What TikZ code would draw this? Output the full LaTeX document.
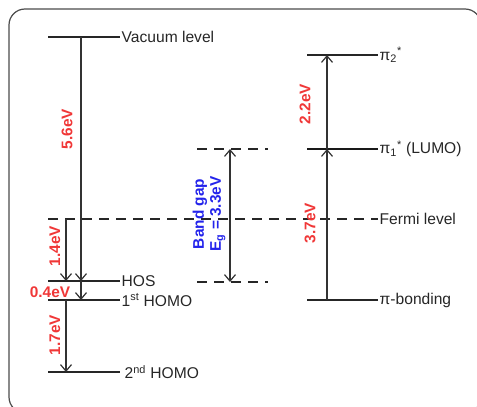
\documentclass[tikz,border=0pt]{standalone}
\usepackage{fontspec}
\setmainfont{Liberation Sans}
\usetikzlibrary{arrows.meta,positioning}
\definecolor{evred}{RGB}{240,55,55}
\definecolor{gapblue}{RGB}{35,35,235}
\tikzset{
  level/.style      = {line width=1.7pt, draw=black!85},
  thicklevel/.style = {line width=2.6pt, draw=black!90},
  dashlevel/.style  = {line width=1.7pt, draw=black!85, dash pattern=on 10pt off 7pt},
  evarrow/.style    = {line width=1.2pt, draw=black!80, -{Straight Barb[length=6.5pt,width=11pt]}},
  levellabel/.style = {anchor=west, inner sep=1.5pt, text=black!85,
                       font=\fontsize{15.6}{17}\selectfont},
  evlabel/.style    = {text=evred, rotate=90, inner sep=0pt,
                       font=\bfseries\fontsize{15.4}{17}\selectfont},
}

\begin{document}
\begin{tikzpicture}[x=1pt,y=-1pt]
  \useasboundingbox (0,0) rectangle (477,407);

  % ---- frame -------------------------------------------------------------
  \draw[line width=1.2pt, draw=black!70, rounded corners=16pt] (9,9) rectangle (481,413);

  % ---- arrow columns -----------------------------------------------------
  \coordinate (colA) at (81,0);
  \coordinate (colB) at (66,0);
  \coordinate (colC) at (230,0);
  \coordinate (colD) at (327,0);

  % ---- molecular levels, left stack --------------------------------------
  \coordinate (vacL) at (48,37);   \coordinate (vacR) at (120,37);
  \coordinate (hosL) at (48,281);  \coordinate (hosR) at (120,281);
  \coordinate (homoaL) at (48,300); \coordinate (homoaR) at (120,300);
  \coordinate (homobL) at (48,372); \coordinate (homobR) at (120,372);
  \draw[level] (vacL) -- (vacR);
  \draw[level] (hosL) -- (hosR);
  \draw[level] (homoaL) -- (homoaR);
  \draw[level] (homobL) -- (homobR);
  \node[levellabel] (vaclbl) at (vacR) {Vacuum level};
  \node[levellabel] (hoslbl) at (hosR) {HOS};
  \node[levellabel] (homoalbl) at (homoaR) {1\textsuperscript{st} HOMO};
  \node[levellabel] (homoblbl) at ([xshift=3pt]homobR) {2\textsuperscript{nd} HOMO};

  % ---- Fermi level and band gap ------------------------------------------
  \coordinate (fermiL) at (48,219); \coordinate (fermiR) at (378,219);
  \coordinate (gaptL) at (197,149); \coordinate (gaptR) at (268,149);
  \coordinate (gapbL) at (197,282); \coordinate (gapbR) at (268,282);
  \draw[dashlevel] (fermiL) -- (fermiR);
  \draw[dashlevel] (gaptL) -- (gaptR);
  \draw[dashlevel] (gapbL) -- (gapbR);
  \node[levellabel] (fermilbl) at (fermiR) {Fermi level};

  % ---- pi levels, right stack --------------------------------------------
  \coordinate (pibL) at (307,55);   \coordinate (pibR) at (378,55);
  \coordinate (piaL) at (307,149);  \coordinate (piaR) at (378,149);
  \coordinate (pinL) at (307,300);  \coordinate (pinR) at (378,300);
  \draw[level] (pibL) -- (pibR);
  \draw[thicklevel] (piaL) -- (piaR);
  \draw[level] (pinL) -- (pinR);
  \node[levellabel] (pidlbl) at (pibR) {π\textsubscript{2}\textsuperscript{*}};
  \node[levellabel] (pialbl) at (piaR) {π\textsubscript{1}\textsuperscript{*} (LUMO)};
  \node[levellabel] (pinlbl) at (pinR) {π-bonding};

  % ---- energy differences ------------------------------------------------
  \draw[evarrow] (vacL -| colA) -- (hosL -| colA);
  \draw[evarrow] (hosL -| colA) -- (homoaL -| colA);
  \draw[evarrow] (fermiL -| colB) -- (hosL -| colB);
  \draw[evarrow] (homoaL -| colB) -- (homobL -| colB);
  \draw[evarrow, {Straight Barb[length=6.5pt,width=11pt]}-{Straight Barb[length=6.5pt,width=11pt]}]
        (gaptL -| colC) -- (gapbL -| colC);
  \draw[evarrow] (pinL -| colD) -- (piaL -| colD);
  \draw[evarrow] (piaL -| colD) -- (pibL -| colD);

  \node[evlabel] (ev56) at (67,129) {5.6eV};
  \node[evlabel] (ev14) at (55,246) {1.4eV};
  \node[evlabel, rotate=-90] (ev04) at (50,292) {0.4eV};
  \node[evlabel] (ev17) at (55,335) {1.7eV};
  \node[evlabel] (ev22) at (305,104) {2.2eV};
  \node[evlabel] (ev37) at (310,223) {3.7eV};
  \node[rotate=90, align=center, text=gapblue, inner sep=0pt,
        font=\bfseries\fontsize{15.4}{17}\selectfont] (gaplbl) at (209,214)
        {Band gap\\E\textsubscript{g} = 3.3eV};
\end{tikzpicture}
\end{document}
